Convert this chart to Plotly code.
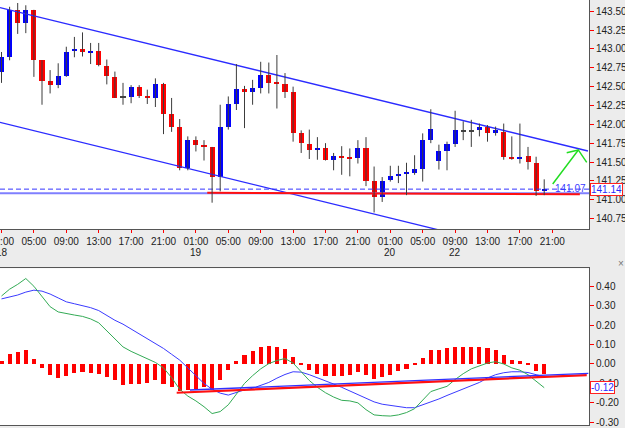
import plotly.graph_objects as go

# ---------------- data ----------------
bars = list(range(68))
opens = [142.70, 142.90, 143.52, 143.34, 143.52, 142.85, 142.57, 142.52, 142.64, 142.97,
         143.00, 142.96, 142.97, 142.78, 142.63, 142.36, 142.36, 142.49, 142.38, 142.35,
         142.53, 142.14, 141.97, 141.42, 141.79, 141.72, 141.70, 141.30, 141.96, 142.27,
         142.47, 142.43, 142.48, 142.65, 142.55, 142.54, 142.43, 141.89, 141.74, 141.66,
         141.69, 141.53, 141.58, 141.57, 141.55, 141.69, 141.25, 141.03, 141.26, 141.31,
         141.35, 141.36, 141.41, 141.79, 141.51, 141.64, 141.74, 141.92, 141.92, 141.92,
         141.96, 141.88, 141.90, 141.56, 141.55, 141.58, 141.49, 141.11]
highs = [142.96, 143.56, 143.61, 143.58, 143.52, 142.85, 142.72, 142.81, 143.03, 143.16,
         143.22, 143.08, 143.08, 142.86, 142.70, 142.55, 142.52, 142.52, 142.46, 142.61,
         142.55, 142.35, 142.07, 141.84, 141.84, 141.79, 141.70, 142.26, 142.37, 142.80,
         142.51, 142.59, 142.83, 142.82, 142.92, 142.68, 142.50, 141.92, 141.93, 141.83,
         141.75, 141.62, 141.71, 141.68, 141.79, 141.83, 141.44, 141.30, 141.45, 141.45,
         141.49, 141.59, 141.88, 142.20, 141.73, 141.77, 142.18, 142.04, 142.06, 142.01,
         141.99, 141.97, 142.01, 141.84, 142.01, 141.70, 141.57, 141.27]
lows = [142.55, 142.85, 143.20, 143.21, 142.63, 142.26, 142.41, 142.48, 142.63, 142.89,
        142.90, 142.80, 142.77, 142.53, 142.35, 142.26, 142.28, 142.35, 142.27, 142.23,
        141.87, 141.90, 141.39, 141.39, 141.64, 141.52, 140.96, 141.11, 141.93, 142.19,
        141.95, 142.26, 142.41, 142.41, 142.21, 142.35, 141.77, 141.62, 141.54, 141.53,
        141.52, 141.39, 141.33, 141.31, 141.48, 141.18, 140.83, 140.97, 141.24, 141.22,
        141.06, 141.33, 141.24, 141.75, 141.40, 141.39, 141.70, 141.79, 141.70, 141.84,
        141.77, 141.85, 141.53, 141.53, 141.48, 141.40, 141.05, 141.06]
closes = [142.90, 143.52, 143.34, 143.52, 142.85, 142.57, 142.52, 142.64, 142.96, 143.00,
          142.96, 142.97, 142.79, 142.64, 142.35, 142.36, 142.49, 142.38, 142.35, 142.53,
          142.14, 141.97, 141.42, 141.79, 141.73, 141.70, 141.30, 141.96, 142.27, 142.47,
          142.43, 142.48, 142.65, 142.55, 142.54, 142.43, 141.89, 141.75, 141.66, 141.68,
          141.53, 141.58, 141.57, 141.55, 141.69, 141.25, 141.03, 141.25, 141.31, 141.34,
          141.355, 141.41, 141.79, 141.94, 141.64, 141.74, 141.92, 141.92, 141.92, 141.96,
          141.88, 141.92, 141.56, 141.55, 141.57, 141.50, 141.11, 141.14]

macd_hist = [0.012, 0.05, 0.058, 0.072, 0.026, -0.022, -0.060, -0.074, -0.065, -0.048,
             -0.043, -0.048, -0.053, -0.068, -0.082, -0.108, -0.105, -0.105, -0.100, -0.086,
             -0.103, -0.120, -0.140, -0.134, -0.130, -0.122, -0.134, -0.082, -0.031, 0.015,
             0.043, 0.067, 0.086, 0.093, 0.086, 0.077, 0.032, -0.007, -0.031, -0.051,
             -0.065, -0.065, -0.065, -0.057, -0.043, -0.057, -0.077, -0.068, -0.057, -0.036,
             -0.025, -0.005, 0.029, 0.068, 0.068, 0.081, 0.086, 0.086, 0.086, 0.086,
             0.079, 0.072, 0.043, 0.021, 0.012, -0.008, -0.040, -0.051]
macd_signal = [0.335, 0.345, 0.355, 0.37, 0.38, 0.375, 0.36, 0.34, 0.32, 0.31,
               0.30, 0.29, 0.275, 0.25, 0.225, 0.205, 0.18, 0.155, 0.13, 0.105,
               0.08, 0.05, 0.02, -0.02, -0.06, -0.10, -0.13, -0.15, -0.16, -0.148,
               -0.133, -0.125, -0.11, -0.095, -0.073, -0.054, -0.04, -0.042, -0.055, -0.07,
               -0.085, -0.103, -0.12, -0.139, -0.16, -0.18, -0.195, -0.207, -0.214, -0.22,
               -0.225, -0.225, -0.21, -0.198, -0.18, -0.162, -0.145, -0.13, -0.112, -0.095,
               -0.072, -0.055, -0.045, -0.04, -0.04, -0.044, -0.055, -0.065]
macd_main = [0.35, 0.385, 0.41, 0.44, 0.40, 0.35, 0.295, 0.268, 0.258, 0.252,
             0.245, 0.232, 0.212, 0.17, 0.13, 0.088, 0.065, 0.045, 0.025, 0.008,
             -0.02, -0.07, -0.13, -0.165, -0.19, -0.22, -0.255, -0.245, -0.21, -0.155,
             -0.10, -0.06, -0.025, 0.002, 0.018, 0.028, 0.005, -0.04, -0.085, -0.12,
             -0.148, -0.17, -0.187, -0.19, -0.20, -0.235, -0.262, -0.266, -0.268, -0.262,
             -0.25, -0.23, -0.185, -0.142, -0.128, -0.115, -0.08, -0.05, -0.025, -0.01,
             0.005, 0.012, 0.0, -0.02, -0.032, -0.055, -0.09, -0.122]

time_tick_bars = [0, 4, 8, 12, 16, 20, 24, 28, 32, 36, 40, 44, 48, 52, 56, 60, 64, 68]
time_tick_text = ["01:00", "05:00", "09:00", "13:00", "17:00", "21:00",
                  "01:00", "05:00", "09:00", "13:00", "17:00", "21:00",
                  "01:00", "05:00", "09:00", "13:00", "17:00", "21:00"]
day_bars = [0, 24, 48, 56]
day_text = ["18", "19", "20", "22"]

price_ticks = [140.75, 141.00, 141.25, 141.50, 141.75, 142.00, 142.25, 142.50,
               142.75, 143.00, 143.25, 143.50]
macd_ticks = [-0.30, -0.20, -0.10, 0.00, 0.10, 0.20, 0.30, 0.40]

# hand-drawn objects on the chart (trend channel, levels, arrow)
chan_up_x, chan_up_y = [-0.19, 72.4], [143.55, 141.646]
chan_lo_x, chan_lo_y = [-0.19, 72.4], [142.027, 140.113]
support_x, support_y = [25.4, 71.4], [141.092, 141.072]
level_price = 141.085
last_price = 141.14
support_label = "141.07"
support_label_bar = 70.2
arrow_x = [68.05, 71.21, 72.25]
arrow_y = [141.208, 141.660, 141.496]
barb_x, barb_y = [69.78, 71.21], [141.624, 141.660]
macd_red_x, macd_red_y = [21.63, 72.25], [-0.148, -0.057]
macd_blue_x, macd_blue_y = [23.27, 72.45], [-0.134, -0.048]
macd_last = -0.12

# ---------------- figure ----------------
XR = [-0.185, 72.53]
fig = go.Figure()

# channel & levels (under candles)
fig.add_trace(go.Scatter(x=chan_up_x, y=chan_up_y, mode="lines",
                         line=dict(color="#2b2bff", width=1.3), hoverinfo="skip"))
fig.add_trace(go.Scatter(x=chan_lo_x, y=chan_lo_y, mode="lines",
                         line=dict(color="#2b2bff", width=1.3), hoverinfo="skip"))
fig.add_trace(go.Scatter(x=XR, y=[level_price, level_price], mode="lines",
                         line=dict(color="#7f7fff", width=2), hoverinfo="skip"))
fig.add_trace(go.Scatter(x=XR, y=[last_price, last_price], mode="lines",
                         line=dict(color="#3535ff", width=1, dash="5px,3px"), hoverinfo="skip"))
fig.add_trace(go.Scatter(x=support_x, y=support_y, mode="lines",
                         line=dict(color="#ff1010", width=2), hoverinfo="skip"))

# wicks
wx, wy = [], []
for i, h, l in zip(bars, highs, lows):
    wx += [i, i, None]
    wy += [l, h, None]
fig.add_trace(go.Scatter(x=wx, y=wy, mode="lines", line=dict(color="#3c3c3c", width=1),
                         hoverinfo="skip"))

# bodies
bases, heights, colors = [], [], []
for o, c in zip(opens, closes):
    lo = min(o, c)
    hgt = max(abs(c - o), 0.018)
    bases.append(lo if abs(c - o) >= 0.018 else (o + c) / 2 - 0.009)
    heights.append(hgt)
    colors.append("#0000ff" if c > o else ("#ff0000" if c < o else "#444444"))
fig.add_trace(go.Bar(x=bars, y=heights, base=bases, width=0.62,
                     marker=dict(color=colors, line=dict(width=0)), hoverinfo="skip"))

# arrow
fig.add_trace(go.Scatter(x=arrow_x, y=arrow_y, mode="lines",
                         line=dict(color="#22dd22", width=1.5), hoverinfo="skip"))
fig.add_trace(go.Scatter(x=barb_x, y=barb_y, mode="lines",
                         line=dict(color="#22dd22", width=1.5), hoverinfo="skip"))

# MACD panel
fig.add_trace(go.Bar(x=bars, y=macd_hist, width=0.5, marker=dict(color="#ff0000", line=dict(width=0)),
                     xaxis="x2", yaxis="y2", hoverinfo="skip"))
fig.add_trace(go.Scatter(x=bars, y=macd_signal, mode="lines", line=dict(color="#3a3aff", width=1),
                         xaxis="x2", yaxis="y2", hoverinfo="skip"))
fig.add_trace(go.Scatter(x=bars, y=macd_main, mode="lines", line=dict(color="#33aa55", width=1),
                         xaxis="x2", yaxis="y2", hoverinfo="skip"))
fig.add_trace(go.Scatter(x=macd_red_x, y=macd_red_y, mode="lines", line=dict(color="#ff1010", width=2.2),
                         xaxis="x2", yaxis="y2", hoverinfo="skip"))
fig.add_trace(go.Scatter(x=macd_blue_x, y=macd_blue_y, mode="lines", line=dict(color="#3030ff", width=1.3),
                         xaxis="x2", yaxis="y2", hoverinfo="skip"))

FONT = "Liberation Sans, Arial, sans-serif"
tickfont = dict(family=FONT, size=10, color="#222222")

annotations = []
for b, t in zip(day_bars, day_text):
    annotations.append(dict(x=b, y=0.407, xref="x", yref="paper", text=t, showarrow=False,
                            font=tickfont, xanchor="center", yanchor="middle"))
annotations.append(dict(x=1.0017, y=last_price, xref="paper", yref="y", text=f"{last_price:.2f}",
                        showarrow=False, xanchor="left", yanchor="middle",
                        font=dict(family=FONT, size=10, color="#2a2aff"),
                        bgcolor="#ffffff", bordercolor="#ff2020", borderwidth=1, borderpad=0))
annotations.append(dict(x=1.0017, y=macd_last, xref="paper", yref="y2", text=f"{macd_last:.2f}",
                        showarrow=False, xanchor="left", yanchor="middle",
                        font=dict(family=FONT, size=10, color="#2a2aff"),
                        bgcolor="#ffffff", bordercolor="#ff2020", borderwidth=1, borderpad=0))
annotations.append(dict(x=support_label_bar, y=141.15, xref="x", yref="y", text=support_label,
                        showarrow=False, xanchor="center", yanchor="middle",
                        font=dict(family=FONT, size=10, color="#3a3aff")))
annotations.append(dict(x=1.045, y=0.381, xref="paper", yref="paper", text="×", showarrow=False,
                        xanchor="left", yanchor="middle", font=dict(family=FONT, size=10, color="#777")))

fig.update_layout(
    width=625, height=428,
    margin=dict(l=0, r=36, t=0, b=3),
    paper_bgcolor="#ececec",
    plot_bgcolor="#ffffff",
    showlegend=False,
    barmode="overlay",
    bargap=0,
    annotations=annotations,
    xaxis=dict(domain=[0, 1], anchor="y", range=XR, tickmode="array",
               tickvals=time_tick_bars, ticktext=time_tick_text,
               ticks="outside", tickcolor="#ff0000", ticklen=3, tickwidth=1,
               ticklabeloverflow="allow",
               showline=True, linecolor="#555555", linewidth=1,
               showgrid=False, zeroline=False, tickfont=tickfont, automargin=False),
    yaxis=dict(domain=[0.4612, 1], anchor="x", range=[140.611, 143.65], side="right",
               tickmode="array", tickvals=price_ticks,
               ticktext=[f"{v:.2f}" for v in price_ticks],
               ticks="outside", tickcolor="#ff0000", ticklen=4, tickwidth=1,
               ticklabeloverflow="allow",
               showline=True, linecolor="#555555", linewidth=1,
               showgrid=False, zeroline=False, tickfont=tickfont, automargin=False),
    xaxis2=dict(domain=[0, 1], anchor="y2", range=XR, matches="x", showticklabels=False,
                ticks="", showline=True, mirror=True, linecolor="#555555", linewidth=1,
                showgrid=False, zeroline=False),
    yaxis2=dict(domain=[0, 0.3687], anchor="x2", range=[-0.314, 0.4925], side="right",
                tickmode="array", tickvals=macd_ticks,
                ticktext=[f"{v:.2f}" for v in macd_ticks],
                ticks="outside", tickcolor="#ff0000", ticklen=4, tickwidth=1,
                ticklabeloverflow="allow",
                showline=True, linecolor="#555555", linewidth=1,
                showgrid=False, zeroline=False, tickfont=tickfont, automargin=False),
)

fig.write_html("out.html")
